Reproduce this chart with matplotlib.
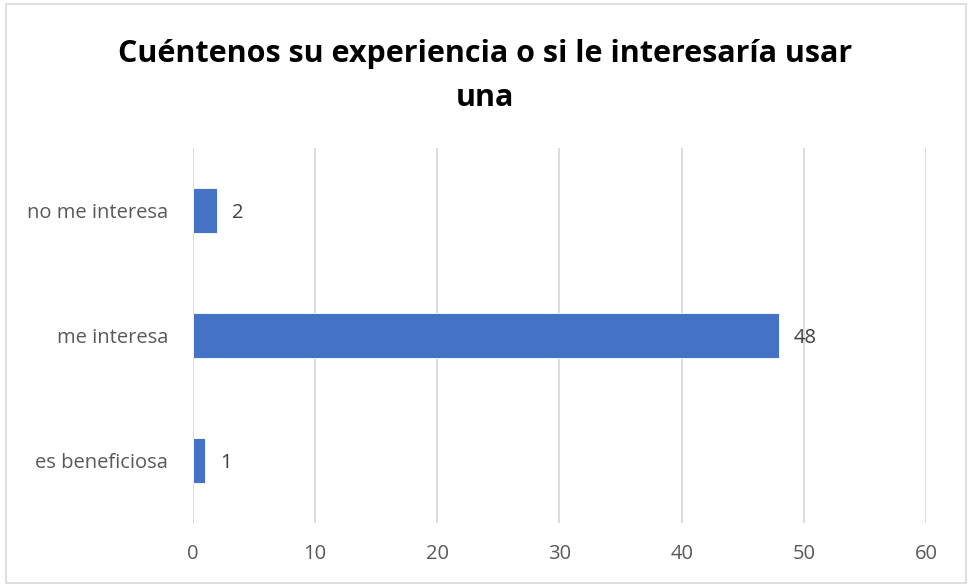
import matplotlib
matplotlib.use("Agg")
import matplotlib.pyplot as plt
from matplotlib.patches import Rectangle

categories = ["es beneficiosa", "me interesa", "no me interesa"]
values = [1, 48, 2]
xticks = [0, 10, 20, 30, 40, 50, 60]
title = "Cuéntenos su experiencia o si le interesaría usar\nuna"

plt.rcParams['font.family'] = ['Open Sans', 'DejaVu Sans']

fig = plt.figure(figsize=(9.7, 5.85), dpi=100)
fig.patches.append(Rectangle((6/970, 2/585), 960/970, 579/585, transform=fig.transFigure,
                             fill=False, edgecolor='#d9d9d9', linewidth=1.2))

ax = fig.add_axes([193/970, 1-523/585, (926-193)/970, (523-148)/585])
ypos = list(range(len(categories)))
ax.barh(ypos, values, height=0.36, color='#4472c4', edgecolor='white', linewidth=0.6, zorder=3)
for y, v in zip(ypos, values):
    ax.text(v + 1.2, y - 0.02, str(v), va='center', ha='left', fontsize=14.5, color='#404040')

ax.set_xlim(0, 60)
ax.set_ylim(-0.5, len(categories) - 0.5)
ax.set_xticks(xticks)
ax.set_xticklabels([str(t) for t in xticks], fontsize=14.5, color='#595959')
ax.set_yticks(ypos)
ax.set_yticklabels(categories, fontsize=14.5, color='#595959')
ax.tick_params(axis='x', length=0, pad=15)
ax.tick_params(axis='y', length=0, pad=18)
ax.grid(axis='x', color='#d9d9d9', linewidth=1.3, zorder=0)
for s in ax.spines.values():
    s.set_visible(False)

fig.text(0.5, 1-76/585, title, ha='center', va='center', fontsize=22, fontweight='bold',
         color='black', linespacing=1.6)

fig.savefig("out.png", dpi=100)
